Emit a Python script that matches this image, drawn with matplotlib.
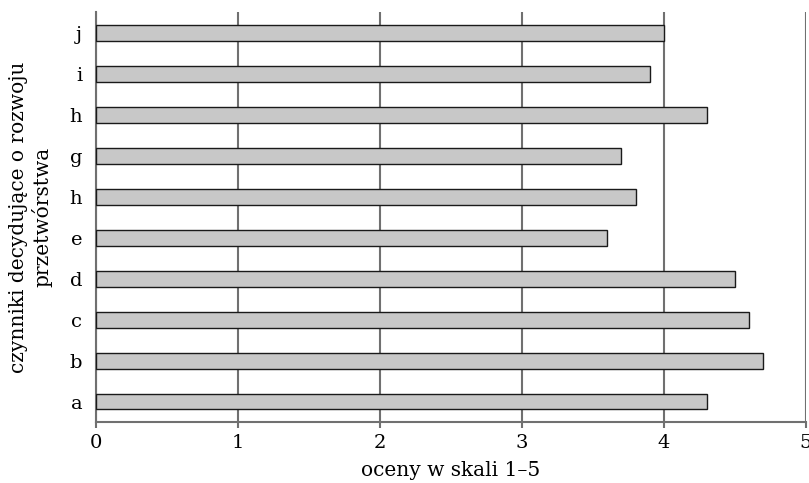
import numpy as np
import matplotlib.pyplot as plt

# dane (od dołu do góry)
czynniki = ['a', 'b', 'c', 'd', 'e', 'h', 'g', 'h', 'i', 'j']
oceny = [4.3, 4.7, 4.6, 4.5, 3.6, 3.8, 3.7, 4.3, 3.9, 4.0]
ticks_x = [0, 1, 2, 3, 4, 5]

plt.rcParams['font.family'] = ['DejaVu Serif']

fig = plt.figure(figsize=(8.09, 4.83), dpi=100)
ax = fig.add_axes([0.1187, 0.1263, 0.9963 - 0.1187, 0.975 - 0.1263])

poz = np.arange(len(czynniki))
ax.barh(poz, oceny, height=0.39, color='#c8c8c8', edgecolor='#1a1a1a',
        linewidth=1.0, zorder=3)

ax.set_xlim(0, 5)
ax.set_ylim(-0.5, len(czynniki) - 0.5)
ax.set_xticks(ticks_x)
ax.set_yticks(poz)
ax.set_yticklabels(czynniki)

ax.xaxis.grid(True, color='#707070', linewidth=1.5, zorder=0)
ax.set_axisbelow(True)

for s in ['top', 'right']:
    ax.spines[s].set_visible(False)
for s in ['left', 'bottom']:
    ax.spines[s].set_color('#707070')
    ax.spines[s].set_linewidth(1.5)

ax.tick_params(axis='x', length=4, width=1.5, color='#707070', labelsize=14, pad=5)
ax.tick_params(axis='y', length=0, labelsize=14, pad=10)

ax.set_xlabel('oceny w skali 1\u20135', fontsize=14.5, labelpad=6)
ax.set_ylabel('czynniki decydujące o rozwoju\nprzetwórstwa', fontsize=14.5,
              linespacing=1.25, labelpad=12)

fig.savefig('out.png', dpi=100)
